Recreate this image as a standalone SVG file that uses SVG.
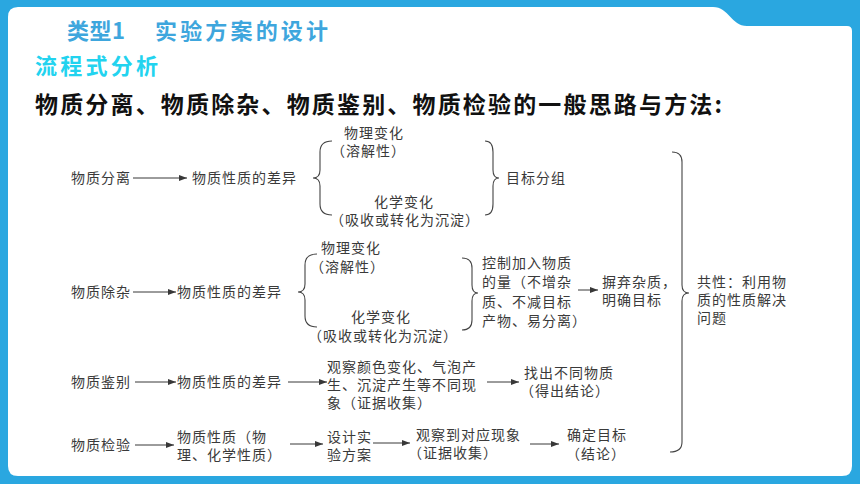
<svg xmlns="http://www.w3.org/2000/svg" width="860" height="484" viewBox="0 0 860 484">
<defs>
<style>
.t{font-family:"Liberation Sans","Noto Sans CJK SC",sans-serif;font-size:14px;letter-spacing:1px;fill:#3a3a3a}
.h{font-family:"Noto Sans CJK SC","Liberation Sans",sans-serif;font-weight:bold}
.c{fill:none;stroke:#383838;stroke-width:1}
.b{fill:none;stroke:#444;stroke-width:1.1}
</style>
<marker id="ah" viewBox="0 0 8 6" refX="8" refY="3" markerWidth="8" markerHeight="6" markerUnits="userSpaceOnUse" orient="auto">
<path d="M0,0 L8,3 L0,6 z" fill="#383838"/>
</marker>
</defs>
<rect x="0" y="0" width="860" height="484" fill="#2aa7e0"/>
<path d="M8,17 Q8,7 18,7 L713,7 C729,7 731,26 747,26 L847,26 Q852,26 852,31 L852,466 Q852,476 842,476 L18,476 Q8,476 8,466 Z" fill="#fff"/>

<g id="header">
<text class="h" x="67" y="39" font-size="22" fill="#3ea6dd" textLength="58">类型1</text>
<text class="h" x="155" y="39" font-size="22" fill="#3ea6dd" textLength="173">实验方案的设计</text>
<text class="h" x="35" y="74" font-size="22" fill="#22d3ef" textLength="123">流程式分析</text>
<text class="h" x="35" y="113" font-size="23" fill="#111" textLength="687">物质分离、物质除杂、物质鉴别、物质检验的一般思路与方法:</text>
</g>

<g id="connectors">
<line class="c" x1="133" y1="178" x2="187" y2="178" marker-end="url(#ah)"/>
<line class="c" x1="133" y1="292" x2="176" y2="292" marker-end="url(#ah)"/>
<line class="c" x1="578" y1="290" x2="598" y2="290" marker-end="url(#ah)"/>
<line class="c" x1="135" y1="382" x2="176" y2="382" marker-end="url(#ah)"/>
<line class="c" x1="288" y1="382" x2="327" y2="382" marker-end="url(#ah)"/>
<line class="c" x1="487" y1="382" x2="519" y2="382" marker-end="url(#ah)"/>
<line class="c" x1="135" y1="445" x2="174" y2="445" marker-end="url(#ah)"/>
<line class="c" x1="290" y1="444" x2="323" y2="444" marker-end="url(#ah)"/>
<line class="c" x1="373" y1="443" x2="410" y2="443" marker-end="url(#ah)"/>
<line class="c" x1="530" y1="444" x2="559" y2="444" marker-end="url(#ah)"/>
<path class="b" d="M332,141 Q320,141 320,152 L320,170 Q320,178 313,178 Q320,178 320,186 L320,204 Q320,215 332,215"/>
<path class="b" d="M485,141 Q493,141 493,152 L493,170 Q493,178 499,178 Q493,178 493,186 L493,204 Q493,215 485,215"/>
<path class="b" d="M317,254 Q305,254 305,265 L305,284 Q305,292 298,292 Q305,292 305,300 L305,316 Q305,327 317,327"/>
<path class="b" d="M462,258 Q472,258 472,268 L472,285 Q472,293 478,293 Q472,293 472,301 L472,320 Q472,330 462,330"/>
<path class="b" d="M672,152 Q682,152 682,162 L682,285 Q682,293 689,293 Q682,293 682,301 L682,442 Q682,452 670,452"/>
</g>

<g id="n-fenli"><text class="t" x="71" y="183">物质分离</text></g>
<g id="n-chayi1"><text class="t" x="192" y="183">物质性质的差异</text></g>
<g id="n-wuli1"><text class="t" x="344" y="138">物理变化<tspan x="331" y="156">（溶解性）</tspan></text></g>
<g id="n-huaxue1"><text class="t" x="374" y="207">化学变化<tspan x="330" y="225">（吸收或转化为沉淀）</tspan></text></g>
<g id="n-mubiao"><text class="t" x="506" y="183">目标分组</text></g>

<g id="n-chuza"><text class="t" x="71" y="297">物质除杂</text></g>
<g id="n-chayi2"><text class="t" x="177" y="297">物质性质的差异</text></g>
<g id="n-wuli2"><text class="t" x="321" y="253">物理变化<tspan x="310" y="272">（溶解性）</tspan></text></g>
<g id="n-huaxue2"><text class="t" x="351" y="322">化学变化<tspan x="308" y="341">（吸收或转化为沉淀）</tspan></text></g>
<g id="n-kongzhi"><text class="t" x="482" y="268">控制加入物质<tspan x="482" y="287.3">的量（不增杂</tspan><tspan x="482" y="306.6">质、不减目标</tspan><tspan x="482" y="326">产物、易分离）</tspan></text></g>
<g id="n-binqi"><text class="t" x="602" y="287">摒弃杂质，<tspan x="602" y="305">明确目标</tspan></text></g>
<g id="n-gongxing"><text class="t" x="697" y="287">共性：利用物<tspan x="697" y="305">质的性质解决</tspan><tspan x="697" y="323">问题</tspan></text></g>

<g id="n-jianbie"><text class="t" x="71" y="387">物质鉴别</text></g>
<g id="n-chayi3"><text class="t" x="177" y="387">物质性质的差异</text></g>
<g id="n-guancha"><text class="t" x="327" y="372">观察颜色变化、气泡产<tspan x="327" y="390">生、沉淀产生等不同现</tspan><tspan x="327" y="408">象（证据收集）</tspan></text></g>
<g id="n-zhaochu"><text class="t" x="524" y="378">找出不同物质<tspan x="520" y="395.5">（得出结论）</tspan></text></g>

<g id="n-jianyan"><text class="t" x="71" y="450">物质检验</text></g>
<g id="n-xingzhi"><text class="t" x="177" y="442">物质性质（物<tspan x="177" y="460">理、化学性质）</tspan></text></g>
<g id="n-sheji"><text class="t" x="327" y="442">设计实<tspan x="327" y="460">验方案</tspan></text></g>
<g id="n-guancha2"><text class="t" x="416" y="440">观察到对应现象<tspan x="408" y="458">（证据收集）</tspan></text></g>
<g id="n-queding"><text class="t" x="567" y="440">确定目标<tspan x="566" y="459">（结论）</tspan></text></g>
</svg>
